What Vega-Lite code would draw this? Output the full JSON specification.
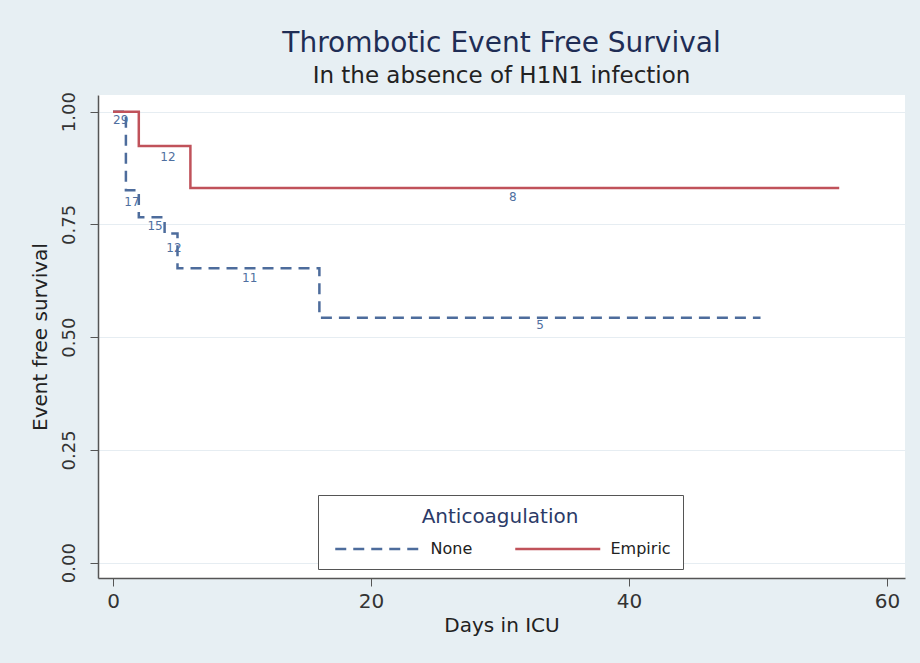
{
  "$schema": "https://vega.github.io/schema/vega-lite/v6.json",
  "width": 807,
  "height": 483,
  "autosize": {"type": "none"},
  "padding": {"left": 98, "top": 95, "right": 15, "bottom": 85},
  "background": "#e7eff3",
  "config": {
    "view": {"fill": "white", "stroke": null},
    "font": "DejaVu Sans"
  },
  "title": {
    "text": "Thrombotic Event Free Survival",
    "subtitle": "In the absence of H1N1 infection",
    "anchor": "middle",
    "font": "DejaVu Sans",
    "fontSize": 28,
    "fontWeight": "normal",
    "color": "#1f2d55",
    "subtitleFont": "DejaVu Sans",
    "subtitleFontSize": 23,
    "subtitleColor": "#222222",
    "subtitlePadding": 7,
    "offset": 4
  },
  "datasets": {
    "curves": [
      {"group": "None", "day": 0, "survival": 1.0},
      {"group": "None", "day": 1, "survival": 0.826},
      {"group": "None", "day": 2, "survival": 0.766},
      {"group": "None", "day": 4, "survival": 0.73},
      {"group": "None", "day": 5, "survival": 0.653},
      {"group": "None", "day": 16, "survival": 0.543},
      {"group": "None", "day": 50.2, "survival": 0.543},
      {"group": "Empiric", "day": 0, "survival": 1.0},
      {"group": "Empiric", "day": 2, "survival": 0.924},
      {"group": "Empiric", "day": 6, "survival": 0.831},
      {"group": "Empiric", "day": 56.3, "survival": 0.831}
    ],
    "risk": [
      {"n": "29", "day": 0.6, "survival": 0.982},
      {"n": "12", "day": 4.26, "survival": 0.899},
      {"n": "8", "day": 31.0, "survival": 0.811},
      {"n": "17", "day": 1.47, "survival": 0.8},
      {"n": "15", "day": 3.26, "survival": 0.746},
      {"n": "12", "day": 4.73, "survival": 0.698},
      {"n": "11", "day": 10.6, "survival": 0.631},
      {"n": "5", "day": 33.1, "survival": 0.527}
    ]
  },
  "layer": [
    {
      "data": {"name": "curves"},
      "mark": {"type": "line", "interpolate": "step-after", "strokeWidth": 2.5},
      "encoding": {
        "x": {
          "field": "day",
          "type": "quantitative",
          "scale": {"domain": [-1.163, 61.4], "nice": false, "zero": false},
          "axis": {
            "values": [0, 20, 40, 60],
            "title": "Days in ICU",
            "grid": false,
            "labelFontSize": 20,
            "labelColor": "#333333",
            "labelPadding": 5,
            "tickSize": 8,
            "tickColor": "#555555",
            "domainColor": "#555555",
            "domainWidth": 1.5,
            "titleFontSize": 20,
            "titleFontWeight": "normal",
            "titleColor": "#222222",
            "titlePadding": 4
          }
        },
        "y": {
          "field": "survival",
          "type": "quantitative",
          "scale": {"domain": [-0.034, 1.037], "nice": false, "zero": false},
          "axis": {
            "values": [0, 0.25, 0.5, 0.75, 1],
            "format": ".2f",
            "title": "Event free survival",
            "labelAngle": -90,
            "labelFontSize": 18,
            "labelColor": "#333333",
            "labelPadding": 12,
            "tickSize": 8,
            "tickColor": "#555555",
            "domainColor": "#555555",
            "domainWidth": 1.5,
            "grid": true,
            "gridColor": "#e6edf2",
            "titleFontSize": 20,
            "titleFontWeight": "normal",
            "titleColor": "#222222",
            "titlePadding": 10
          }
        },
        "color": {
          "field": "group",
          "type": "nominal",
          "scale": {"domain": ["None", "Empiric"], "range": ["#4d6c9c", "#c0525a"]},
          "legend": {
            "title": "Anticoagulation",
            "orient": "none",
            "legendX": 220,
            "legendY": 400,
            "direction": "horizontal",
            "titleAnchor": "middle",
            "titleFontSize": 20,
            "titleFontWeight": "normal",
            "titleColor": "#2b3a67",
            "titlePadding": 12,
            "labelFontSize": 16,
            "labelColor": "#222222",
            "labelOffset": 42.75,
            "symbolType": "M-5,0H5",
            "symbolSize": 289,
            "symbolOffset": 37.75,
            "symbolStrokeWidth": 2.5,
            "columnPadding": 37,
            "padding": 12,
            "strokeColor": "#555555",
            "fillColor": "white"
          }
        },
        "strokeDash": {
          "field": "group",
          "type": "nominal",
          "scale": {"domain": ["None", "Empiric"], "range": [[11, 7], [1, 0]]},
          "legend": {
            "title": "Anticoagulation",
            "orient": "none",
            "legendX": 220,
            "legendY": 400,
            "direction": "horizontal",
            "titleAnchor": "middle",
            "titleFontSize": 20,
            "titleFontWeight": "normal",
            "titleColor": "#2b3a67",
            "titlePadding": 12,
            "labelFontSize": 16,
            "labelColor": "#222222",
            "labelOffset": 42.75,
            "symbolType": "M-5,0H5",
            "symbolSize": 289,
            "symbolOffset": 37.75,
            "symbolStrokeWidth": 2.5,
            "columnPadding": 37,
            "padding": 12,
            "strokeColor": "#555555",
            "fillColor": "white"
          }
        },
        "order": {"field": "day", "type": "quantitative"}
      }
    },
    {
      "data": {"name": "risk"},
      "mark": {"type": "text", "fontSize": 12, "color": "#4f6fa0"},
      "encoding": {
        "x": {"field": "day", "type": "quantitative", "title": "Days in ICU"},
        "y": {"field": "survival", "type": "quantitative", "title": "Event free survival"},
        "text": {"field": "n"}
      }
    }
  ]
}
